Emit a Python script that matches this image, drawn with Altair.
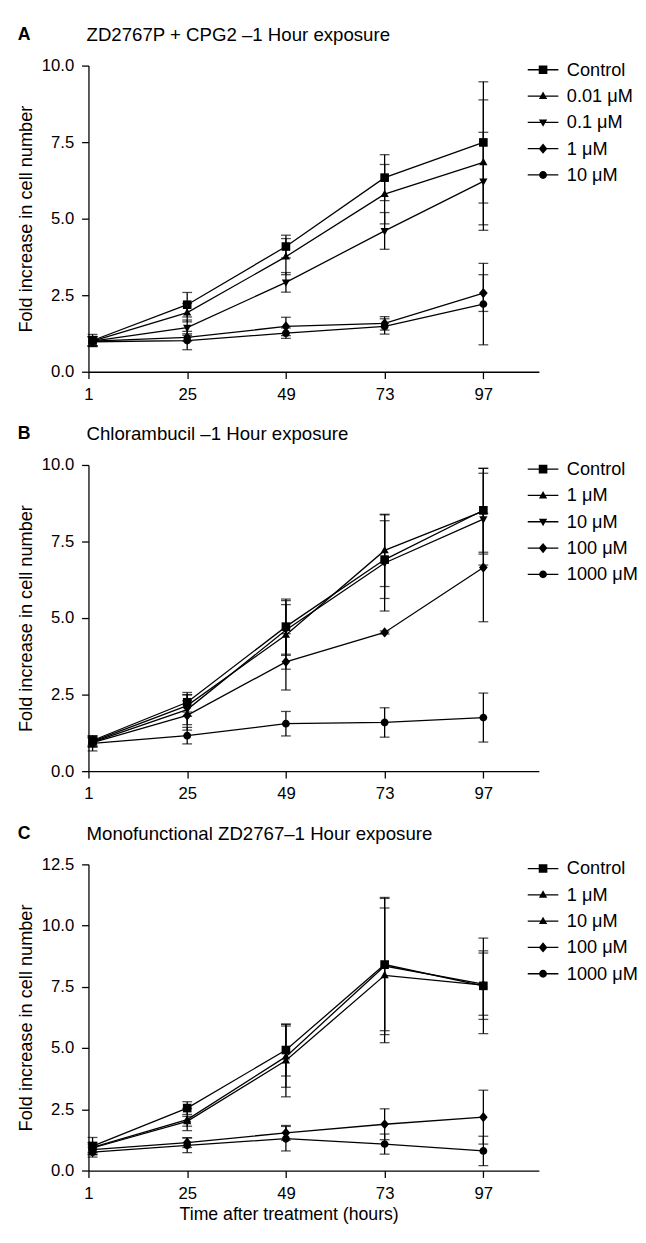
import altair as alt
import pandas as pd

# ---------------- data ----------------
hours = [2, 25, 49, 73, 97]
tick_hours = [1, 25, 49, 73, 97]

panel_letters = ["A", "B", "C"]
panel_titles = [
    "ZD2767P + CPG2 \u20131 Hour exposure",
    "Chlorambucil \u20131 Hour exposure",
    "Monofunctional ZD2767\u20131 Hour exposure",
]

a_series = ["Control", "0.01 \u03bcM", "0.1 \u03bcM", "1 \u03bcM", "10 \u03bcM"]
a_shapes = ["square", "triangle-up", "triangle-down", "diamond", "circle"]
a_means = [
    [1.02, 2.19, 4.09, 6.34, 7.49],
    [1.00, 1.93, 3.76, 5.80, 6.84],
    [1.00, 1.44, 2.92, 4.60, 6.22],
    [1.00, 1.12, 1.48, 1.58, 2.57],
    [0.98, 1.02, 1.26, 1.48, 2.21],
]
a_errs = [
    [0.20, 0.40, 0.37, 0.75, 1.98],
    [0.15, 0.30, 0.59, 0.97, 2.04],
    [0.15, 0.25, 0.32, 0.60, 1.60],
    [0.15, 0.12, 0.30, 0.22, 0.60],
    [0.15, 0.30, 0.17, 0.25, 1.33],
]

b_series = ["Control", "1 \u03bcM", "10 \u03bcM", "100 \u03bcM", "1000 \u03bcM"]
b_shapes = ["square", "triangle-up", "triangle-down", "diamond", "circle"]
b_means = [
    [1.00, 2.25, 4.72, 6.91, 8.52],
    [0.97, 2.14, 4.45, 7.21, 8.49],
    [0.95, 2.01, 4.61, 6.80, 8.23],
    [0.93, 1.82, 3.57, 4.53, 6.65],
    [0.91, 1.16, 1.55, 1.59, 1.75],
]
b_errs = [
    [0.15, 0.32, 0.90, 1.27, 1.37],
    [0.15, 0.35, 1.12, 1.18, 1.40],
    [0.15, 0.49, 0.83, 1.57, 1.50],
    [0.15, 0.48, 0.92, 0.05, 1.77],
    [0.25, 0.27, 0.40, 0.48, 0.80],
]

c_series = ["Control", "1 \u03bcM", "10 \u03bcM", "100 \u03bcM", "1000 \u03bcM"]
c_shapes = ["square", "triangle-up", "triangle-up", "diamond", "circle"]
c_means = [
    [1.00, 2.55, 4.92, 8.41, 7.54],
    [0.95, 2.08, 4.65, 8.35, 7.61],
    [0.92, 2.01, 4.49, 7.97, 7.57],
    [0.85, 1.14, 1.54, 1.89, 2.18],
    [0.75, 1.03, 1.30, 1.08, 0.80],
]
c_errs = [
    [0.35, 0.26, 1.06, 2.70, 1.95],
    [0.20, 0.45, 1.25, 2.80, 1.27],
    [0.20, 0.20, 1.48, 2.75, 1.40],
    [0.20, 0.20, 0.30, 0.63, 1.10],
    [0.20, 0.30, 0.50, 0.41, 0.60],
]

y_max = [10.0, 10.0, 12.5]
y_ticks = [[0, 2.5, 5, 7.5, 10], [0, 2.5, 5, 7.5, 10], [0, 2.5, 5, 7.5, 10, 12.5]]

# ---------------- styling ----------------
FONT = "Liberation Sans"
# legend line drawn as a thin filled bar so it shows with filled symbols
LINE = "M-3.9,-0.17H3.9V0.17H-3.9Z"
MARKERS = {
    "square": "M-1.1,-1.1H1.1V1.1H-1.1Z",
    "triangle-up": "M0,-1.15L1.05,0.75H-1.05Z",
    "triangle-down": "M0,1.15L-1.05,-0.75H1.05Z",
    "diamond": "M0,-1.3L1.1,0L0,1.3L-1.1,0Z",
    "circle": "M-1,0A1,1,0,1,1,1,0A1,1,0,1,1,-1,0Z",
}
PW, PH = 459, 312


def panel(idx, series, shapes, means, errs, show_xtitle):
    rows = []
    for s, m, e in zip(series, means, errs):
        for h, mv, ev in zip(hours, m, e):
            rows.append({"series": s, "hour": h, "mean": mv, "lo": mv - ev, "hi": mv + ev})
    df = pd.DataFrame(rows)

    xaxis = alt.Axis(
        values=tick_hours,
        format="d",
        title="Time after treatment (hours)" if show_xtitle else None,
        labelPadding=8,
        labelFlush=False,
        **({"titleX": 204, "titlePadding": 5} if show_xtitle else {}),
    )
    xs = alt.Scale(domain=[1, 110.5], nice=False, zero=False)
    ys = alt.Scale(domain=[0, y_max[idx]], nice=False)
    yaxis = alt.Axis(values=y_ticks[idx], format=".1f", title="Fold increase in cell number",
                     labelFlush=False)

    x = alt.X("hour:Q", scale=xs, axis=xaxis)
    base = alt.Chart(df)

    rules = base.mark_rule(color="black", strokeWidth=1.3).encode(
        x=x, y=alt.Y("lo:Q", scale=ys, axis=yaxis), y2="hi:Q"
    )
    caps = base.transform_fold(["lo", "hi"], as_=["bound", "val"]).mark_tick(
        orient="horizontal", size=10, thickness=1.3, color="black"
    ).encode(x=x, y=alt.Y("val:Q", scale=ys, axis=yaxis))
    lines = base.mark_line(color="black", strokeWidth=1.3).encode(
        x=x, y=alt.Y("mean:Q", scale=ys, axis=yaxis), detail="series:N", order="hour:Q"
    )
    points = base.mark_point(filled=True, color="black", size=64, opacity=1).encode(
        x=x,
        y=alt.Y("mean:Q", scale=ys, axis=yaxis),
        shape=alt.Shape(
            "series:N",
            scale=alt.Scale(domain=series, range=[MARKERS[s] for s in shapes]),
            legend=None,
        ),
    )
    legend_layer = (
        alt.Chart(pd.DataFrame({"series": series}))
        .transform_filter("false")
        .mark_point(filled=True, color="black", size=64, opacity=1)
        .encode(
            shape=alt.Shape(
                "series:N",
                scale=alt.Scale(domain=series, range=[LINE + MARKERS[s] for s in shapes]),
                legend=alt.Legend(
                    title=None,
                    orient="none",
                    legendX=454,
                    legendY=-5,
                    symbolSize=64,
                    labelFont=FONT,
                    labelFontSize=18.5,
                    labelColor="black",
                    labelOffset=15,
                    rowPadding=7.8,
                    padding=0,
                ),
            )
        )
    )
    head = pd.DataFrame({"letter": [panel_letters[idx]], "title": [panel_titles[idx]]})
    letter = (
        alt.Chart(head)
        .mark_text(font=FONT, fontSize=18, fontWeight="bold", align="left", baseline="middle", color="black")
        .encode(text="letter:N", x=alt.value(-72), y=alt.value(-31))
    )
    title = (
        alt.Chart(head)
        .mark_text(font=FONT, fontSize=19, align="left", baseline="middle", color="black")
        .encode(text="title:N", x=alt.value(-2), y=alt.value(-31))
    )
    return (
        alt.layer(rules, caps, lines, points, legend_layer, letter, title)
        .resolve_scale(shape="independent")
        .properties(width=PW, height=PH)
    )


pa = panel(0, a_series, a_shapes, a_means, a_errs, False)
pb = panel(1, b_series, b_shapes, b_means, b_errs, False)
pc = panel(2, c_series, c_shapes, c_means, c_errs, True)

chart = (
    alt.vconcat(pa, pb, pc, spacing=24)
    .resolve_scale(y="independent", shape="independent")
    .properties(padding={"left": 8, "top": 7, "right": 0, "bottom": 0})
    .configure(font=FONT)
    .configure_view(stroke=None)
    .configure_axis(
        domainColor="black",
        tickColor="black",
        labelColor="black",
        titleColor="black",
        domainWidth=1.3,
        tickWidth=1.3,
        grid=False,
        labelFont=FONT,
        titleFont=FONT,
        labelFontSize=17,
        titleFontSize=18.5,
        titleFontWeight="normal",
        tickSize=7,
    )
    .configure_axisY(labelPadding=8, titlePadding=6)
    .configure_axisX(titleFontSize=18)
)

chart.save("out.html", embed_options={"renderer": "svg", "actions": False})
